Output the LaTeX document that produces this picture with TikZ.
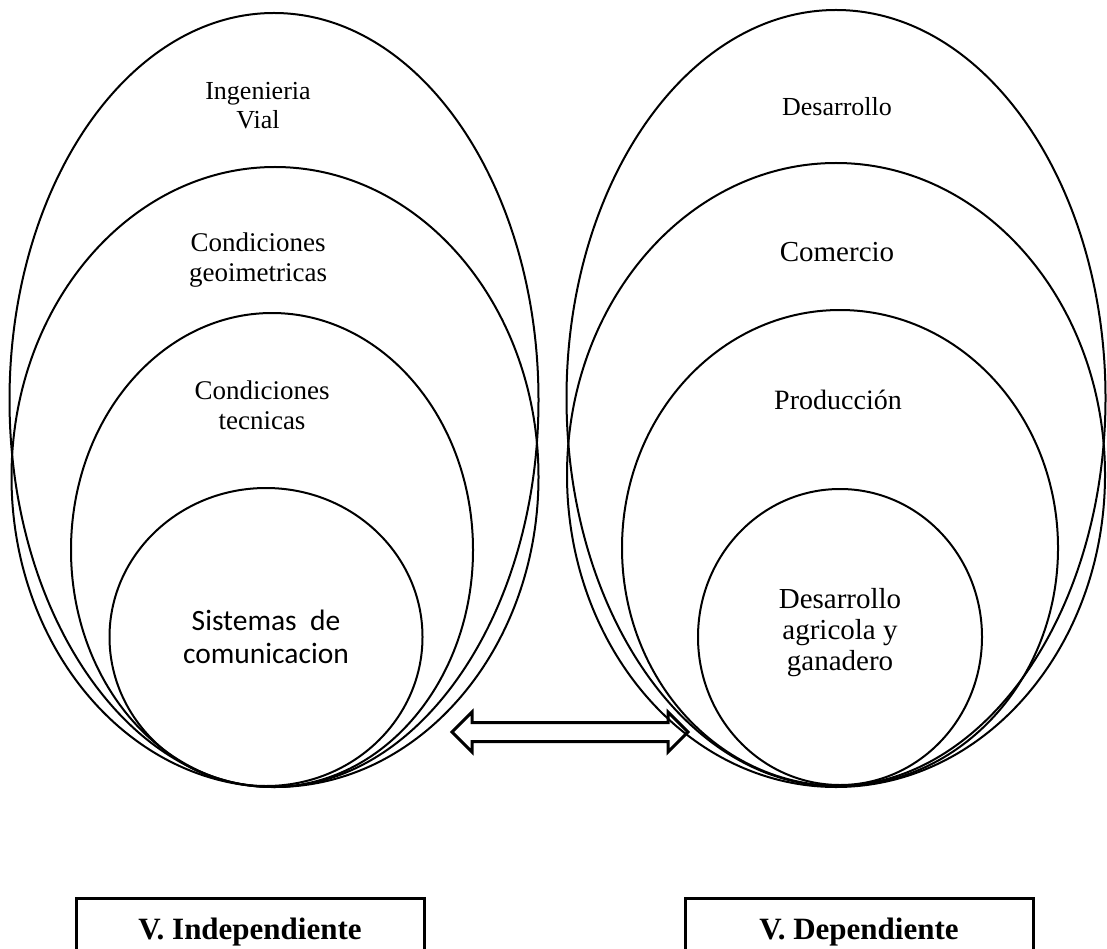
\documentclass[tikz,border=0pt]{standalone}
\usepackage{fontspec}
\setmainfont{Liberation Serif}
\newfontfamily\calibri{Carlito}
\usetikzlibrary{shapes.geometric,shapes.arrows,positioning}

\begin{document}
\begin{tikzpicture}[x=1pt, y=-1pt,
  oval/.style={draw, ellipse, line width=2pt, inner sep=0pt},
  lbl/.style={align=center, font=\fontsize{27}{30}\selectfont},
  varbox/.style={draw, line width=3pt, minimum width=348pt, inner xsep=0pt,
    inner ysep=20pt, text height=21pt, text depth=7pt,
    font=\fontsize{31}{34}\selectfont\bfseries},
  dblarrow/.style={draw, double arrow, line width=3pt, inner xsep=0pt,
    inner ysep=8pt, double arrow head extend=10.5pt}]
  \useasboundingbox (0,0) rectangle (1107,949);

  % V. Independiente: nested ellipses
  \node[oval, minimum width=529pt, minimum height=774pt] (indA) at (274,400) {};
  \node[oval, minimum width=527pt, minimum height=620pt] (indB) at (275,477) {};
  \node[oval, minimum width=402pt, minimum height=474pt] (indC) at (272,550) {};
  \node[oval, minimum width=313pt, minimum height=298pt] (indD) at (266,637) {};

  \node[lbl, font=\fontsize{26}{29}\selectfont] (ingvial) at (258,106) {Ingenieria\\Vial};
  \node[lbl] (geom) at (258,260) {Condiciones\\geoimetricas};
  \node[lbl] (tecn) at (262,405) {Condiciones\\tecnicas};
  \node[lbl, font=\fontsize{29.5}{33}\calibri] (sist) at (266,637) {Sistemas~ de\\comunicacion};

  % V. Dependiente: nested ellipses
  \node[oval, minimum width=539pt, minimum height=776pt] (depA) at (836,398) {};
  \node[oval, minimum width=538pt, minimum height=624pt] (depB) at (836,475) {};
  \node[oval, minimum width=436pt, minimum height=476pt] (depC) at (840,548) {};
  \node[oval, minimum width=284pt, minimum height=296pt] (depD) at (840,637) {};

  \node[lbl, font=\fontsize{26}{29}\selectfont] (desa) at (837,107) {Desarrollo};
  \node[lbl, font=\fontsize{29}{32}\selectfont] (come) at (837,252) {Comercio};
  \node[lbl, font=\fontsize{28}{31}\selectfont] (prod) at (838,400) {Producción};
  \node[lbl, font=\fontsize{29}{31}\selectfont] (agri) at (840,633) {Desarrollo\\agricola y\\ganadero};

  % relation between both variables
  \node[dblarrow, minimum height=236pt] (link) at (570,732) {};

  % variable boxes (cut by the page edge)
  \node[varbox, anchor=north] (indep) at (250,897) {V. Independiente};
  \node[varbox, anchor=north] (dep) at (859,897) {V. Dependiente};
\end{tikzpicture}
\end{document}
